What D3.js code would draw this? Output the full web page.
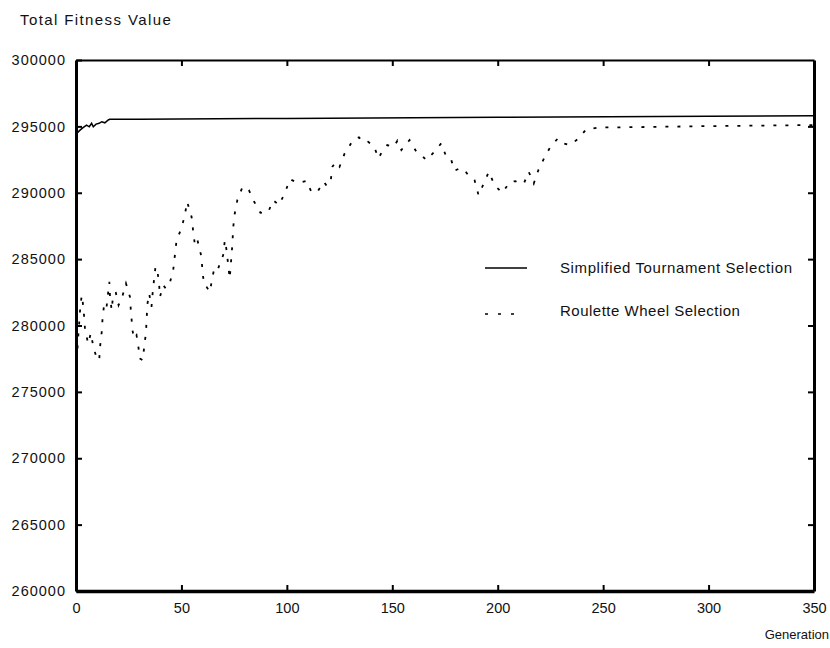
<!DOCTYPE html>
<html>
<head>
<meta charset="utf-8">
<script src="https://cdn.jsdelivr.net/npm/d3@7"></script>
<style>
  body { margin: 0; background: #fff; }
  text { font-family: "Liberation Sans", Arial, sans-serif; fill: #111; }
</style>
</head>
<body>
<div id="chart"></div>
<script>
// axis ticks
const xTicks = [0, 50, 100, 150, 200, 250, 300, 350];
const yTicks = [260000, 265000, 270000, 275000, 280000, 285000, 290000, 295000, 300000];

// Simplified Tournament Selection
const tournGen = [0, 0.3, 1.9, 3.5, 5, 6.3, 7.4, 8.2, 9.5, 11, 12.2, 13.7, 15.3, 16, 30, 100, 200, 300, 350];
const tournVal = [293840, 294470, 294720, 294920, 295100, 294970, 295230, 294970, 295170, 295230, 295350, 295270, 295480, 295530, 295540, 295600, 295680, 295760, 295800];

// Roulette Wheel Selection
const rouletteGen = [0, 0.6, 1, 2, 2.7, 3.2, 3.8, 4.3, 5.8, 7, 8.2, 9.8, 11, 11.4, 12.2, 12.6, 13.4, 14.5, 15.8, 16.1,
  16.9, 17.7, 18.9, 20.2, 21.9, 23.7, 25.6, 26, 26.8, 27.5, 28.7, 29.5, 30.3, 31.6, 32.4, 33.2, 33.5, 33.9, 34.7, 35.8,
  36.3, 36.9, 37.7, 38.7, 39.5, 39.8, 41.4, 42.6, 44.5, 46.1, 46.9, 47.7, 50, 51.6, 52.7, 54.8, 55.6, 56.4, 57.6, 59.5,
  60, 60.8, 61.9, 63.5, 64.7, 65.8, 67.4, 69.8, 70.6, 71.4, 72.1, 72.9, 73.7, 74.2, 74.5, 75.3, 76.5, 79, 82, 84.5,
  87.5, 91.1, 93.5, 96.3, 99.3, 101.4, 104, 105.6, 109.3, 111.6, 114.3, 117.5, 119, 120.8, 121.6, 123.2, 125, 127.4, 129.5, 131.3,
  134.2, 136.4, 138.5, 141.2, 143.5, 145.3, 147.6, 150.8, 152.4, 154.3, 158.2, 161.4, 163.4, 166.1, 170, 173.2, 175.3, 177.6, 179.5, 181.9,
  183.9, 186.6, 189, 190.9, 193.4, 195.8, 198.5, 202.1, 205.9, 208.3, 210.3, 212.4, 214.7, 217.1, 219.3, 222.2, 225, 228.5, 231.3, 234.3,
  238.4, 241.9, 248.2, 255.3, 300, 350];
const rouletteVal = [277380, 278000, 279040, 281300, 282280, 281780, 280770, 279640, 278640, 279420, 278440, 277530, 277380, 278380, 279510, 280550, 281680, 281400, 283290, 282280,
  281150, 282410, 282460, 281530, 282150, 283160, 282150, 281150, 279640, 279010, 279270, 278510, 277510, 277380, 278440, 279510, 280520, 281650, 282410, 281400,
  282360, 283290, 284420, 284040, 282910, 282150, 283030, 282780, 283210, 284170, 285300, 286430, 287310, 288310, 289320, 288190, 287060, 286050, 286430, 285170,
  284040, 283030, 282910, 282530, 283660, 284420, 284290, 285300, 286430, 285680, 284670, 283540, 285170, 286180, 287310, 288440, 289440, 290450, 290200, 289320,
  288490, 288520, 289440, 289070, 290070, 291030, 290830, 290750, 290900, 290070, 290020, 290830, 290500, 290900, 291960, 292330, 291960, 292960, 293460, 293970,
  294170, 293790, 293840, 293540, 292590, 293160, 293590, 293460, 293920, 293220, 293970, 293090, 292910, 292460, 293090, 293720, 292840, 292660, 291660, 291830,
  291780, 291200, 290950, 289820, 290700, 291580, 290570, 289990, 290830, 290880, 290700, 290700, 291580, 290700, 291710, 292660, 293460, 294090, 293720, 293590,
  294090, 294770, 294920, 294920, 295020, 295100];

const W = 830, H = 648;
const margin = { left: 76, top: 60, right: 16, bottom: 57 };
const w = W - margin.left - margin.right;
const h = H - margin.top - margin.bottom;

const svg = d3.select("#chart").append("svg")
  .attr("width", W)
  .attr("height", H);

const g = svg.append("g")
  .attr("transform", `translate(${margin.left},${margin.top})`);

const x = d3.scaleLinear().domain([0, 350]).range([0, w]);
const y = d3.scaleLinear().domain([260000, 300000]).range([h, 0]);

// axes: ticks pointing inward on all four sides
const fmt = d3.format("d");
const bottomAxis = g.append("g")
  .attr("transform", `translate(0,${h})`)
  .call(d3.axisBottom(x).tickValues(xTicks).tickFormat(fmt).tickSizeInner(-6).tickSizeOuter(0).tickPadding(12));
const leftAxis = g.append("g")
  .call(d3.axisLeft(y).tickValues(yTicks).tickFormat(fmt).tickSizeInner(-6).tickSizeOuter(0).tickPadding(10));
const topAxis = g.append("g")
  .call(d3.axisTop(x).tickValues(xTicks.slice(1, -1)).tickFormat("").tickSizeInner(-6).tickSizeOuter(0));
const rightAxis = g.append("g")
  .attr("transform", `translate(${w},0)`)
  .call(d3.axisRight(y).tickValues(yTicks.slice(1, -1)).tickFormat("").tickSizeInner(-6).tickSizeOuter(0));

[bottomAxis, leftAxis, topAxis, rightAxis].forEach(a => {
  a.selectAll("text").style("font-family", '"Liberation Sans", Arial, sans-serif').attr("fill", "#111");
  a.selectAll(".tick line").attr("stroke", "#000").attr("stroke-width", 2);
});
bottomAxis.selectAll("text").style("font-size", "14.5px");
leftAxis.selectAll("text").style("font-size", "14.5px").style("letter-spacing", "1px");
bottomAxis.select(".domain").attr("stroke", "#000").attr("stroke-width", 3.5);
leftAxis.select(".domain").attr("stroke", "#000").attr("stroke-width", 3);
rightAxis.select(".domain").attr("stroke", "#000").attr("stroke-width", 3);
topAxis.select(".domain").attr("stroke", "#000").attr("stroke-width", 2);

// lines
const line = d3.line()
  .x(d => x(d[0]))
  .y(d => y(d[1]));

g.append("path")
  .datum(tournGen.map((d, i) => [d, tournVal[i]]))
  .attr("fill", "none")
  .attr("stroke", "#000")
  .attr("stroke-width", 1.5)
  .attr("d", line);

g.append("path")
  .datum(rouletteGen.map((d, i) => [d, rouletteVal[i]]))
  .attr("fill", "none")
  .attr("stroke", "#000")
  .attr("stroke-width", 1.8)
  .attr("stroke-dasharray", "3,9")
  .attr("d", line);

// axis titles
svg.append("text")
  .attr("x", 20)
  .attr("y", 25)
  .style("font-size", "15px")
  .style("letter-spacing", "1.4px")
  .text("Total Fitness Value");

svg.append("text")
  .attr("x", 829)
  .attr("y", 639)
  .attr("text-anchor", "end")
  .style("font-size", "13px")
  .text("Generation");

// legend
const legend = svg.append("g");
legend.append("line")
  .attr("x1", 485).attr("x2", 527)
  .attr("y1", 268).attr("y2", 268)
  .attr("stroke", "#000").attr("stroke-width", 1.5);
legend.append("text")
  .attr("x", 560).attr("y", 273)
  .style("font-size", "15px")
  .style("letter-spacing", "0.6px")
  .text("Simplified Tournament Selection");
legend.append("line")
  .attr("x1", 485).attr("x2", 517)
  .attr("y1", 314).attr("y2", 314)
  .attr("stroke", "#000").attr("stroke-width", 1.5)
  .attr("stroke-dasharray", "3,10");
legend.append("text")
  .attr("x", 560).attr("y", 316)
  .style("font-size", "15px")
  .style("letter-spacing", "0.5px")
  .text("Roulette Wheel Selection");
</script>
</body>
</html>
